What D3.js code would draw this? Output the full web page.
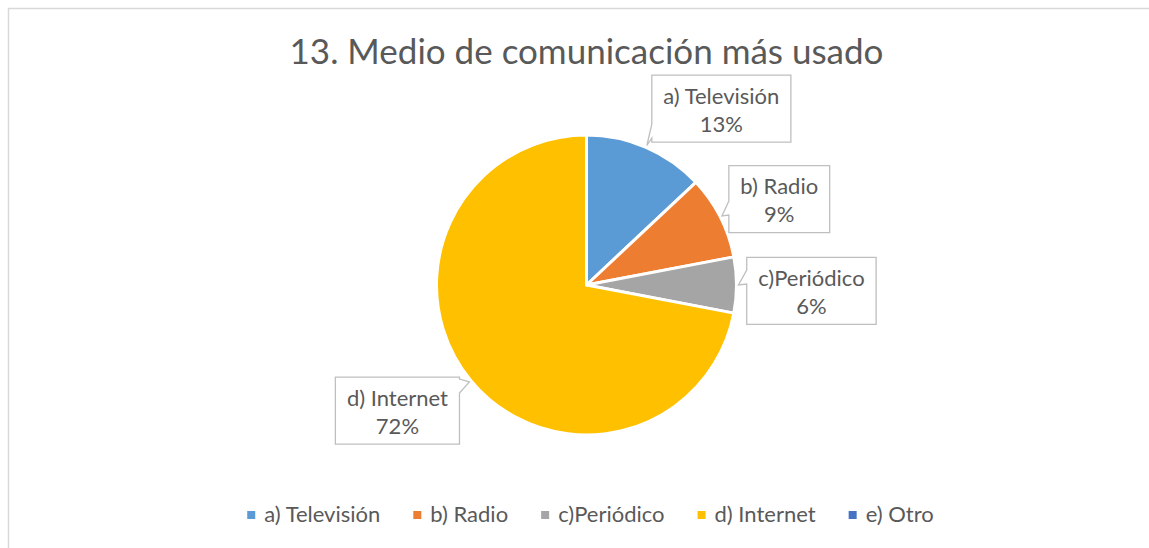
<!DOCTYPE html>
<html>
<head>
<meta charset="utf-8">
<script src="https://cdn.jsdelivr.net/npm/d3@7"></script>
<style>
  body { margin: 0; background: #fff; }
  text { font-family: Lato, "Open Sans", sans-serif; fill: #595959; }
</style>
</head>
<body>
<div id="chart"></div>
<script>
// data
var categories = ["a) Televisión", "b) Radio", "c)Periódico", "d) Internet", "e) Otro"];
var values = [13, 9, 6, 72, 0];
var colors = ["#5B9BD5", "#ED7D31", "#A5A5A5", "#FFC000", "#4472C4"];
var title = "13. Medio de comunicación más usado";

var width = 1149, height = 548;
var cx = 586.5, cy = 285, radius = 150;

// callout angle nudges (degrees), Excel moves labels a bit
var labelShift = [14, 3, 1.5, 6, 0];
var labelRadius = [222, 211, 225, 227, 220];

var svg = d3.select("#chart").append("svg")
    .attr("width", width)
    .attr("height", height);

// chart frame (cropped at right and bottom)
svg.append("rect")
    .attr("x", 8.5).attr("y", 8.5)
    .attr("width", 1200).attr("height", 600)
    .attr("fill", "#fff")
    .attr("stroke", "#D9D9D9")
    .attr("stroke-width", 1.5);

// title
svg.append("text")
    .attr("x", cx).attr("y", 64)
    .attr("text-anchor", "middle")
    .style("font-size", "35px")
    .text(title);

var pie = d3.pie().sort(null).value(function(d){ return d; });
var arcs = pie(values);
var arc = d3.arc().innerRadius(0).outerRadius(radius);

var g = svg.append("g").attr("transform", "translate(" + cx + "," + cy + ")");

g.selectAll("path.slice")
    .data(arcs)
  .enter().append("path")
    .attr("class", "slice")
    .attr("d", arc)
    .attr("fill", function(d, i){ return colors[i]; })
    .attr("stroke", "#fff")
    .attr("stroke-width", 3)
    .attr("stroke-linejoin", "round");

// callouts
function polar(a, r) { return [Math.sin(a) * r, -Math.cos(a) * r]; }

arcs.forEach(function(d, i) {
  if (d.value === 0) return;
  var mid = (d.startAngle + d.endAngle) / 2;
  var c = polar(mid + labelShift[i] * Math.PI / 180, labelRadius[i]);
  var tip = polar(mid, radius + 2);

  var lg = g.append("g");
  var path = lg.append("path")
      .attr("fill", "#fff")
      .attr("stroke", "#BFBFBF")
      .attr("stroke-width", 1.3);
  var t1 = lg.append("text")
      .attr("text-anchor", "middle")
      .attr("x", c[0]).attr("y", c[1] - 5)
      .style("font-size", "22px")
      .text(categories[i]);
  lg.append("text")
      .attr("text-anchor", "middle")
      .attr("x", c[0]).attr("y", c[1] + 23)
      .style("font-size", "22px")
      .text(Math.round(d.value / d3.sum(values) * 100) + "%");

  var w = t1.node().getComputedTextLength() + 23, h = 67;
  var x0 = c[0] - w / 2, x1 = c[0] + w / 2, y0 = c[1] - h / 2, y1 = c[1] + h / 2;
  var half = 7, p;
  var clamp = function(v, a, b){ return Math.max(a, Math.min(b, v)); };
  var ox = tip[0] < x0 ? x0 - tip[0] : (tip[0] > x1 ? tip[0] - x1 : 0);
  var oy = tip[1] < y0 ? y0 - tip[1] : (tip[1] > y1 ? tip[1] - y1 : 0);
  if (oy >= ox && tip[1] > y1) {
    var bx = clamp(tip[0] + 40, x0 + half + 4, x1 - half - 4);
    p = [[x0,y0],[x1,y0],[x1,y1],[bx + half,y1],tip,[bx - half,y1],[x0,y1]];
  } else if (tip[0] < x0) {
    var by = clamp(tip[1] - 8, y0 + half + 2, y1 - half - 4);
    p = [[x0,y0],[x1,y0],[x1,y1],[x0,y1],[x0,by + half],tip,[x0,by - half]];
  } else {
    var by2 = clamp(tip[1], y0 + half + 2, y1 - half - 4);
    p = [[x0,y0],[x1,y0],[x1,by2 - half],tip,[x1,by2 + half],[x1,y1],[x0,y1]];
  }
  path.attr("d", "M" + p.map(function(q){ return q.join(","); }).join("L") + "Z");
});

// legend
var legend = svg.append("g");
var lx = 0;
categories.forEach(function(name, i) {
  var item = legend.append("g").attr("transform", "translate(" + lx + ",0)");
  item.append("rect")
      .attr("x", 0).attr("y", -4)
      .attr("width", 8).attr("height", 8)
      .attr("fill", colors[i]);
  var t = item.append("text")
      .attr("x", 17).attr("y", 7)
      .style("font-size", "22px")
      .text(name);
  lx += 17 + t.node().getComputedTextLength() + 33;
});
var lw = lx - 33;
legend.attr("transform", "translate(" + (590.5 - lw / 2) + ",515)");
</script>
</body>
</html>
